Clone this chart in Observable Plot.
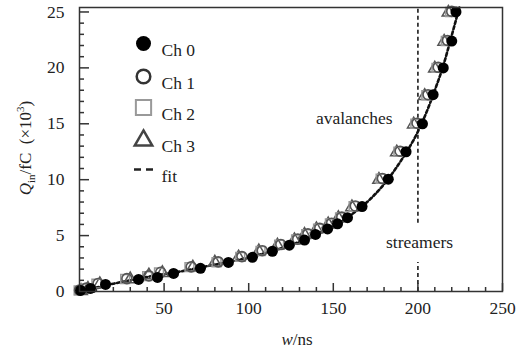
<!DOCTYPE html>
<html><head><meta charset="utf-8">
<script src="https://cdn.jsdelivr.net/npm/d3@7"></script>
<script src="https://cdn.jsdelivr.net/npm/@observablehq/plot@0.6"></script>
<style>body{margin:0;background:#fff;} #chart svg{display:block}</style>
</head><body><div id="chart"></div><script>
// Ch 0 (filled circles)
const ch0W = [0.6, 6.5, 15.4, 34.9, 46.1, 55.6, 71.5, 88, 102.2, 114, 124, 133, 139.5, 146.6, 152.5, 158.4, 167, 182.5, 193, 202.7, 209, 215, 220, 222.5];
const ch0Q = [0.1, 0.27, 0.63, 1.08, 1.26, 1.62, 2.07, 2.6, 3.06, 3.6, 4.14, 4.6, 5.1, 5.6, 6.05, 6.6, 7.6, 10.05, 12.5, 15.0, 17.6, 20.0, 22.4, 25.0];
// Ch 1 (open circles)
const ch1W = [0, 4, 11, 28, 41, 48, 66, 82, 96, 108, 119, 129, 135, 142, 149, 155, 163, 179, 189.5, 199.5, 206, 212, 217.5, 220];
const ch1Q = [0.12, 0.3, 0.72, 1.15, 1.4, 1.72, 2.2, 2.65, 3.12, 3.65, 4.2, 4.68, 5.15, 5.65, 6.1, 6.65, 7.65, 10.1, 12.55, 15.05, 17.6, 20.05, 22.45, 25.05];
// Ch 2 (grey squares)
const ch2W = [-0.5, 3, 10, 27, 40, 47, 65, 81, 95, 107, 118, 128, 134, 141, 148, 154, 162, 178, 188.5, 198.5, 205, 211, 216.5, 219];
const ch2Q = [0.1, 0.28, 0.7, 1.12, 1.38, 1.7, 2.18, 2.62, 3.1, 3.62, 4.18, 4.65, 5.12, 5.62, 6.08, 6.62, 7.62, 10.08, 12.5, 15.0, 17.55, 20.0, 22.4, 25.0];
// Ch 3 (triangles)
const ch3W = [1, 5, 12, 30, 41, 49, 67, 80, 94, 106, 117, 127, 133, 140, 147, 153, 161, 177, 187.5, 197.5, 204, 210, 215.5, 218];
const ch3Q = [0.05, 0.25, 0.66, 1.1, 1.45, 1.66, 2.15, 2.6, 3.05, 3.6, 4.12, 4.6, 5.08, 5.58, 6.02, 6.58, 7.55, 10.0, 12.45, 14.95, 17.5, 19.95, 22.35, 24.95];
// fit curve
const fitW = [0, 10, 20, 30, 40, 50, 60, 70, 80, 90, 100, 110, 120, 130, 140, 150, 160, 170, 180, 190, 200, 205, 210, 215, 220, 224.5];
const fitQ = [0, 0.35, 0.7, 1.0, 1.3, 1.55, 1.8, 2.1, 2.4, 2.7, 3.05, 3.45, 3.9, 4.45, 5.1, 5.85, 6.8, 8.0, 9.6, 11.7, 14.3, 16.0, 18.0, 20.2, 22.9, 25.4];
const xTicks = [50, 100, 150, 200, 250];
const yTicks = [0, 5, 10, 15, 20, 25];
const xMinor = [10, 20, 30, 40, 60, 70, 80, 90, 110, 120, 130, 140, 160, 170, 180, 190, 210, 220, 230, 240];
const yMinor = [1,2,3,4,6,7,8,9,11,12,13,14,16,17,18,19,21,22,23,24];
const legendLabels = ["Ch 0", "Ch 1", "Ch 2", "Ch 3", "fit"];
const annotations = ["avalanches", "streamers"];

const W = 520, H = 349, mL = 79, mR = 18, mT = 7, mB = 58;
const frameW = W - mL - mR, frameH = H - mT - mB;
const rows = (ws, qs) => ws.map((w, i) => ({w, q: qs[i]}));
const d0 = rows(ch0W, ch0Q), d1 = rows(ch1W, ch1Q), d2 = rows(ch2W, ch2Q), d3r = rows(ch3W, ch3Q), fit = rows(fitW, fitQ);
const serif = "Liberation Serif";
const dash = {draw(ctx, size) { const r = Math.sqrt(size / Math.PI); ctx.moveTo(-r, 0); ctx.lineTo(r, 0); }};
const legX = 143 - mL, legTX = 161 - mL, legY = [43, 76, 107, 139, 169].map(v => v - mT);
const txt = {fill: "#222", fontSize: 17.5, fontFamily: serif};

const plot = Plot.plot({
  width: W, height: H, marginLeft: mL, marginRight: mR, marginTop: mT, marginBottom: mB,
  style: {fontFamily: serif, fontSize: "17.5px", color: "#222", background: "white"},
  x: {domain: [0, 250]},
  y: {domain: [0, 25.4]},
  marks: [
    Plot.axisX(xTicks, {tickSize: 0, tickPadding: 10, fontSize: 17.5, fontFamily: serif, label: null}),
    Plot.axisY(yTicks, {tickSize: 0, tickPadding: 15, fontSize: 17.5, fontFamily: serif, label: null}),
    Plot.tickX(xMinor, {insetTop: frameH - 4, stroke: "#333", strokeWidth: 1.5}),
    Plot.tickX(xTicks, {insetTop: frameH - 8, stroke: "#333", strokeWidth: 1.5}),
    Plot.tickY(yMinor, {insetRight: frameW - 5, stroke: "#333", strokeWidth: 1.5}),
    Plot.tickY(yTicks, {insetRight: frameW - 10, stroke: "#333", strokeWidth: 1.5}),
    Plot.ruleX([200], {y1: 0, y2: 2.6, stroke: "#333", strokeWidth: 1.8, strokeDasharray: "4,3"}),
    Plot.ruleX([200], {y1: 6.1, y2: 25.4, stroke: "#333", strokeWidth: 1.8, strokeDasharray: "4,3"}),
    Plot.line(fit, {x: "w", y: "q", curve: "monotone-x", stroke: "#111", strokeWidth: 2.6, strokeDasharray: "3,2.5"}),
    Plot.dot(d3r, {x: "w", y: "q", symbol: "triangle", r: 4.6, stroke: "#555", strokeWidth: 1.5, fill: "none"}),
    Plot.dot(d2, {x: "w", y: "q", symbol: "square", r: 5, stroke: "#999", strokeWidth: 1.5, fill: "none"}),
    Plot.dot(d1, {x: "w", y: "q", r: 5, stroke: "#555", strokeWidth: 1.6, fill: "none"}),
    Plot.dot(d0, {x: "w", y: "q", r: 5.5, fill: "black", stroke: "none"}),
    Plot.text([annotations[0]], {x: 162.4, y: 15.5, text: d => d, ...txt}),
    Plot.text([annotations[1]], {x: 201, y: 4.4, text: d => d, ...txt}),
    // legend
    Plot.dot([0], {frameAnchor: "top-left", dx: legX, dy: legY[0], r: 7.5, fill: "black"}),
    Plot.dot([0], {frameAnchor: "top-left", dx: legX, dy: legY[1], r: 6.8, stroke: "#333", strokeWidth: 2.5, fill: "none"}),
    Plot.dot([0], {frameAnchor: "top-left", dx: legX, dy: legY[2], symbol: "square", r: 8.6, stroke: "#999", strokeWidth: 2, fill: "none"}),
    Plot.dot([0], {frameAnchor: "top-left", dx: legX, dy: legY[3] + 1, symbol: "triangle", r: 6.5, stroke: "#444", strokeWidth: 2.5, fill: "none"}),
    Plot.dot([0], {frameAnchor: "top-left", dx: legX, dy: legY[4], symbol: dash, r: 9.5, stroke: "#222", strokeWidth: 2.5, strokeDasharray: "7,5"}),
    ...legendLabels.map((lab, i) => Plot.text([lab], {frameAnchor: "top-left", dx: legTX, dy: legY[i], text: d => d, textAnchor: "start", ...txt})),
    Plot.frame({stroke: "#333", strokeWidth: 1.5})
  ]
});
document.getElementById("chart").appendChild(plot);

const svg = d3.select(plot);
const yl = svg.append("text")
  .attr("transform", "translate(31,148) rotate(-90)")
  .attr("text-anchor", "middle")
  .attr("fill", "#222")
  .style("font-family", serif).style("font-size", "17px");
yl.append("tspan").attr("font-style", "italic").text("Q");
yl.append("tspan").attr("dy", 4).style("font-size", "11px").text("in");
yl.append("tspan").attr("dy", -4).text("/fC\u00a0 (\u00d710");
yl.append("tspan").attr("dy", -7).style("font-size", "11px").text("3");
yl.append("tspan").attr("dy", 7).text(")");

const xl = svg.append("text")
  .attr("x", 297).attr("y", 345)
  .attr("text-anchor", "middle")
  .attr("fill", "#222")
  .style("font-family", serif).style("font-size", "17px");
xl.append("tspan").attr("font-style", "italic").text("w");
xl.append("tspan").text("/ns");
</script></body></html>
